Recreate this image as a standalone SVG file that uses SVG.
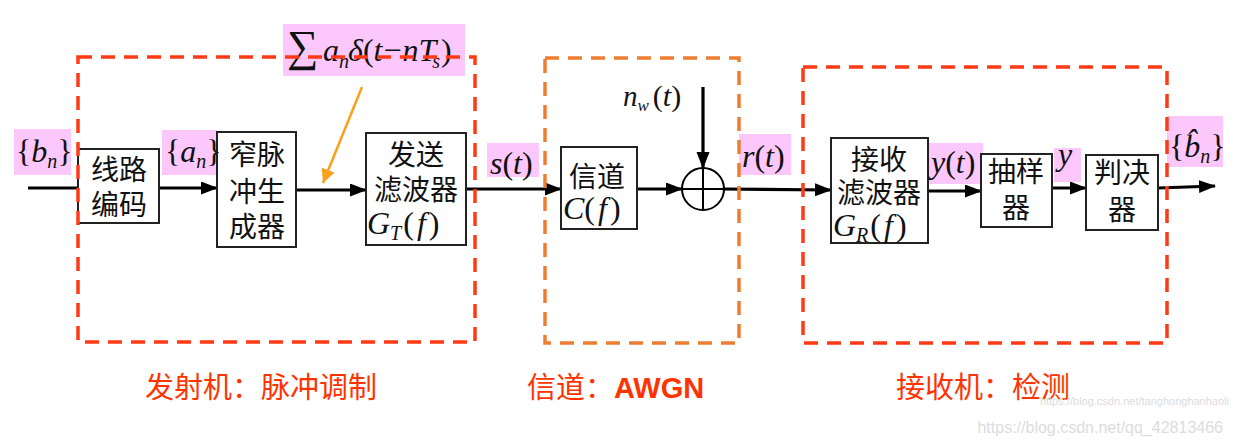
<svg xmlns="http://www.w3.org/2000/svg" width="1234" height="446" viewBox="0 0 1234 446">
<style>
.blk{fill:#fff;stroke:#222;stroke-width:2}
.cn{font-family:"Noto Sans CJK SC","Noto Sans",sans-serif;font-size:28px;fill:#111;text-anchor:middle}
.m{font-family:"Liberation Serif","Times New Roman",serif;font-size:32px;fill:#111}
.i{font-style:italic}
.pk{fill:#FCC8FC}
.ln{stroke:#000;stroke-width:3.2;fill:none}
.dr{fill:none;stroke:#FF3A14;stroke-width:3.5;stroke-dasharray:14 9}
.do{fill:none;stroke:#ED7D31;stroke-width:3.5;stroke-dasharray:14 9}
.lab{font-family:"Noto Sans CJK SC","Noto Sans",sans-serif;font-size:29px;fill:#FF3300}
.wm{font-family:"Liberation Sans",Arial,sans-serif;fill:#dcdcdc}
</style>
<defs>
<marker id="ah" markerUnits="userSpaceOnUse" markerWidth="18" markerHeight="14" refX="16" refY="6.5" orient="auto">
<path d="M0,0 L17,6.5 L0,13 z" fill="#000"/>
</marker>
<marker id="aho" markerUnits="userSpaceOnUse" markerWidth="18" markerHeight="16" refX="14" refY="7" orient="auto">
<path d="M0,0 L14,7 L0,14 z" fill="#F9A11B"/>
</marker>
</defs>

<g id="labels-bg">
<rect class="pk" x="14" y="129" width="57" height="46"/>
<rect class="pk" x="162" y="130" width="55" height="45"/>
<rect class="pk" x="283" y="24" width="182" height="52"/>
<rect class="pk" x="487" y="143" width="52" height="34"/>
<rect class="pk" x="739" y="134" width="52" height="41"/>
<rect class="pk" x="928" y="143" width="55" height="41"/>
<rect class="pk" x="1054" y="148" width="27" height="34"/>
<rect class="pk" x="1167" y="116" width="56" height="51"/>
</g>

<g id="connectors">
<line class="ln" x1="28" y1="188" x2="97" y2="188" marker-end="url(#ah)"/>
<line class="ln" x1="159" y1="188" x2="217" y2="188" marker-end="url(#ah)"/>
<line class="ln" x1="296" y1="190" x2="366" y2="190" marker-end="url(#ah)"/>
<line class="ln" x1="466" y1="189" x2="561" y2="189" marker-end="url(#ah)"/>
<line class="ln" x1="637" y1="189" x2="682" y2="189" marker-end="url(#ah)"/>
<line class="ln" x1="724" y1="189" x2="831" y2="190" marker-end="url(#ah)"/>
<line class="ln" x1="703" y1="87" x2="703" y2="168" marker-end="url(#ah)"/>
<line class="ln" x1="928" y1="191" x2="981" y2="191" marker-end="url(#ah)"/>
<line class="ln" x1="1052" y1="188" x2="1086" y2="188" marker-end="url(#ah)"/>
<line class="ln" x1="1158" y1="188" x2="1215" y2="186" marker-end="url(#ah)"/>
<line x1="362" y1="87" x2="323" y2="183" stroke="#F9A11B" stroke-width="2.5" marker-end="url(#aho)"/>
</g>

<g id="n-coder">
<rect class="blk" x="78" y="149" width="81" height="74"/>
<text class="cn" x="119" y="180">线路</text>
<text class="cn" x="119" y="215">编码</text>
</g>

<g id="n-pulse">
<rect class="blk" x="217" y="132" width="79" height="115"/>
<text class="cn" x="257" y="165">窄脉</text>
<text class="cn" x="257" y="202">冲生</text>
<text class="cn" x="257" y="237">成器</text>
</g>

<g id="n-txfilter">
<rect class="blk" x="366" y="133" width="100" height="112"/>
<text class="cn" x="416" y="165">发送</text>
<text class="cn" x="416" y="200">滤波器</text>
<text class="m" x="367" y="234"><tspan class="i">G</tspan><tspan class="i" font-size="20" dy="6">T</tspan><tspan dy="-6" dx="2">(</tspan><tspan class="i" dx="3">f</tspan><tspan dx="3">)</tspan></text>
</g>

<g id="n-channel">
<rect class="blk" x="561" y="147" width="76" height="82"/>
<text class="cn" x="597" y="187">信道</text>
<text class="m" x="563" y="219"><tspan class="i">C</tspan>(<tspan class="i" dx="3">f</tspan><tspan dx="3">)</tspan></text>
</g>

<g id="n-sum">
<circle cx="703" cy="189" r="21" fill="#fff" stroke="#000" stroke-width="2"/>
<line x1="682" y1="189" x2="724" y2="189" stroke="#000" stroke-width="2"/>
<line x1="703" y1="168" x2="703" y2="210" stroke="#000" stroke-width="2"/>
</g>

<g id="n-rxfilter">
<rect class="blk" x="831" y="138" width="97" height="105"/>
<text class="cn" x="879" y="170">接收</text>
<text class="cn" x="879" y="203">滤波器</text>
<text class="m" x="833" y="236"><tspan class="i">G</tspan><tspan class="i" font-size="20" dy="6">R</tspan><tspan dy="-6" dx="2">(</tspan><tspan class="i" dx="3">f</tspan><tspan dx="3">)</tspan></text>
</g>

<g id="n-sampler">
<rect class="blk" x="981" y="154" width="71" height="73"/>
<text class="cn" x="1016" y="182">抽样</text>
<text class="cn" x="1016" y="218">器</text>
</g>

<g id="n-decision">
<rect class="blk" x="1086" y="155" width="72" height="75"/>
<text class="cn" x="1122" y="183">判决</text>
<text class="cn" x="1122" y="220">器</text>
</g>

<g id="math-labels">
<text class="m" x="16" y="162">{<tspan class="i">b</tspan><tspan class="i" font-size="20" dy="6">n</tspan><tspan dy="-6">}</tspan></text>
<text class="m" x="165" y="162">{<tspan class="i">a</tspan><tspan class="i" font-size="20" dy="6">n</tspan><tspan dy="-6">}</tspan></text>
<text class="m" x="287" y="61"><tspan font-size="44">∑</tspan><tspan class="i" x="323">a</tspan><tspan class="i" font-size="20" dy="7">n</tspan><tspan class="i" dy="-7" x="348">δ</tspan>(<tspan class="i">t</tspan><tspan dx="1">−</tspan><tspan class="i" dx="1">n</tspan><tspan class="i">T</tspan><tspan class="i" font-size="20" dy="7" dx="-4">s</tspan><tspan dy="-7" dx="1">)</tspan></text>
<text class="m" x="490" y="174"><tspan class="i">s</tspan>(<tspan class="i">t</tspan>)</text>
<text class="m" x="742" y="167"><tspan class="i">r</tspan>(<tspan class="i">t</tspan>)</text>
<text class="m" x="931" y="173"><tspan class="i">y</tspan>(<tspan class="i">t</tspan>)</text>
<text class="m i" x="1058" y="165">y</text>
<text class="m" x="1169" y="157">{<tspan class="i">b̂</tspan><tspan class="i" font-size="20" dy="6">n</tspan><tspan dy="-6">}</tspan></text>
<text class="m" x="623" y="106"><tspan class="i" font-size="29">n</tspan><tspan class="i" font-size="17" dy="5">w</tspan><tspan dy="-5" dx="4" font-size="30">(</tspan><tspan class="i" font-size="30">t</tspan><tspan font-size="30">)</tspan></text>
</g>

<g id="regions">
<rect class="dr" x="78" y="57" width="397" height="285"/>
<rect class="do" x="545" y="58" width="194" height="285"/>
<rect class="dr" x="803" y="67" width="364" height="276"/>
</g>

<g id="captions">
<text class="lab" x="145" y="398">发射机：脉冲调制</text>
<text class="lab" x="527" y="398">信道：<tspan font-family="Liberation Sans,Arial,sans-serif" font-weight="bold">AWGN</tspan></text>
<text class="lab" x="896" y="398">接收机：检测</text>
</g>

<g id="watermark">
<text class="wm" x="1040" y="405" font-size="11">https://blog.csdn.net/tanghonghanhaoli</text>
<text class="wm" x="1223" y="433" font-size="16" text-anchor="end">https://blog.csdn.net/qq_42813466</text>
</g>
</svg>
